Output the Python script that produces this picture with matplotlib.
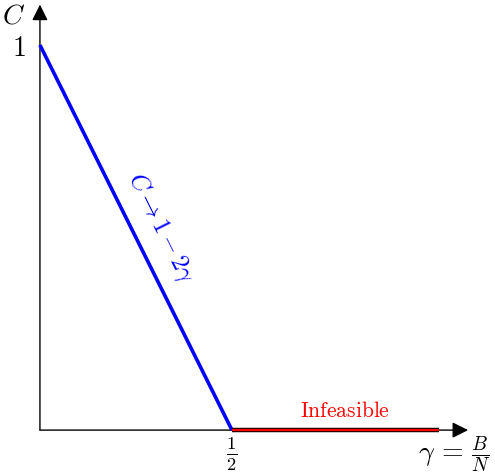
import matplotlib
matplotlib.use("Agg")
import matplotlib.pyplot as plt
import matplotlib.patheffects as pe

plt.rcParams['mathtext.fontset'] = 'cm'

# data
gamma_feasible = [0.0, 0.5]
c_feasible = [1.0, 0.0]
gamma_infeasible = [0.5, 1.04]
c_infeasible = [0.0, 0.0]
xtick_pos = [0.5]
xtick_labels = [r'$\frac{1}{2}$']
ytick_pos = [1.0]
ytick_labels = [r'$1$']

fig = plt.figure(figsize=(4.95, 4.74), dpi=100)
ax = fig.add_axes([0, 0, 1, 1])
ax.set_xlim(-0.104, 1.185)
ax.set_ylim(-0.114, 1.117)
ax.axis('off')

# axes with arrows
ax.annotate('', xy=(1.115, 0), xytext=(0, 0),
            arrowprops=dict(arrowstyle='-|>', mutation_scale=24, lw=1.0,
                            color='black', shrinkA=0, shrinkB=0))
ax.annotate('', xy=(0, 1.105), xytext=(0, 0),
            arrowprops=dict(arrowstyle='-|>', mutation_scale=24, lw=1.0,
                            color='black', shrinkA=0, shrinkB=0))

# lines
ax.plot(gamma_feasible, c_feasible, color='#0000ff', lw=2.6,
        solid_capstyle='butt', zorder=3)
ax.plot(gamma_infeasible, c_infeasible, color='#ff0000', lw=1.7,
        solid_capstyle='butt', zorder=3,
        path_effects=[pe.Stroke(linewidth=3.2, foreground='black'), pe.Normal()])

# tick labels
for x, lab in zip(xtick_pos, xtick_labels):
    ax.text(x, -0.064, lab, ha='center', va='center', fontsize=19)
for y, lab in zip(ytick_pos, ytick_labels):
    ax.text(-0.056, y - 0.008, lab, ha='center', va='center', fontsize=20)

# axis labels
ax.text(-0.068, 1.078, r'$C$', ha='center', va='center', fontsize=20)
ax.text(1.08, -0.064, r'$\gamma\,=\,\frac{B}{N}$', ha='center', va='center', fontsize=20)

# annotations
ax.text(0.315, 0.525, r'$C \to 1 - 2\gamma$', color='#0000ff', fontsize=18,
        rotation=-63.5, ha='center', va='center', rotation_mode='anchor')
ax.text(0.795, 0.05, r'$\mathrm{Infeasible}$', color='#ff0000', fontsize=15.5,
        ha='center', va='center')

fig.savefig('out.png', dpi=100)
